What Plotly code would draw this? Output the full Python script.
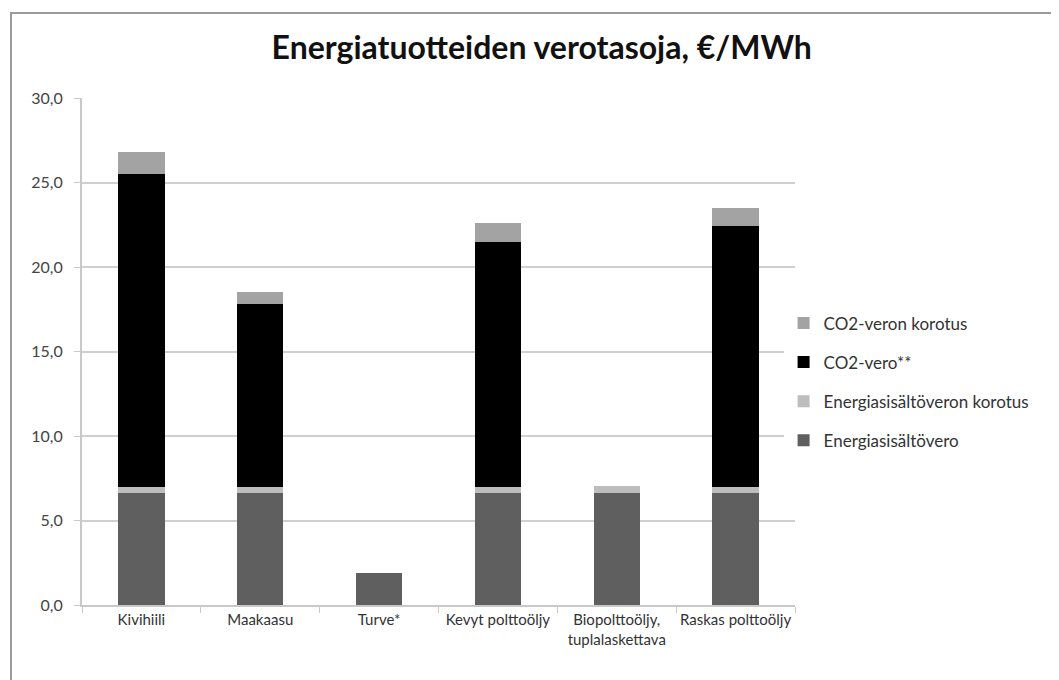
import plotly.graph_objects as go

categories = ["Kivihiili", "Maakaasu", "Turve*", "Kevyt polttoöljy",
              "Biopolttoöljy,<br>tuplalaskettava", "Raskas polttoöljy"]
energiasisaltovero = [6.65, 6.65, 1.9, 6.65, 6.65, 6.65]
energiasisaltoveron_korotus = [0.35, 0.35, 0.0, 0.35, 0.4, 0.35]
co2_vero = [18.5, 10.8, 0.0, 14.5, 0.0, 15.4]
co2_veron_korotus = [1.3, 0.75, 0.0, 1.1, 0.0, 1.1]

series = [
    ("Energiasisältövero", energiasisaltovero, "#5f5f5f"),
    ("Energiasisältöveron korotus", energiasisaltoveron_korotus, "#bdbdbd"),
    ("CO2-vero**", co2_vero, "#000000"),
    ("CO2-veron korotus", co2_veron_korotus, "#a3a3a3"),
]

fig = go.Figure()
for i, (name, vals, col) in enumerate(series):
    fig.add_trace(go.Bar(name=name, x=categories, y=vals, legendgroup=name,
                         legendrank=1000 - i,
                         marker=dict(color=col, line=dict(width=0))))

font = "Lato, Open Sans, sans-serif"
fig.update_layout(
    barmode="stack",
    width=1059, height=680,
    margin=dict(l=74, r=272, t=90, b=83),
    paper_bgcolor="white", plot_bgcolor="white",
    bargap=0.61,
    title=dict(text="<b>Energiatuotteiden verotasoja, €/MWh</b>",
               x=0.504, xanchor="center", y=0.941, yanchor="middle",
               font=dict(family=font, size=32, color="#111")),
    font=dict(family=font, size=15, color="#333"),
    legend=dict(x=0.984, xanchor="left", y=0.44, yanchor="middle",
                traceorder="grouped", font=dict(size=17, color="#333"),
                itemwidth=30, tracegroupgap=14),
    showlegend=True,
    yaxis=dict(range=[0, 30], dtick=5, tickformat=".1f",
               showgrid=True, gridcolor="#d0d0d0", gridwidth=1.5,
               showline=True, linecolor="#c8c8c8", linewidth=2,
               ticks="outside", tickcolor="#c8c8c8", ticklen=6,
               ticklabelstandoff=8,
               tickfont=dict(size=16, color="#444"), zeroline=False),
    xaxis=dict(showline=True, linecolor="#c8c8c8", linewidth=2,
               ticks="outside", tickson="boundaries", tickcolor="#c8c8c8",
               ticklen=6, tickfont=dict(size=15, color="#333"), tickangle=0),
    separators=",.",
    shapes=[dict(type="rect", xref="paper", yref="paper",
                 x0=(3 - 74) / 713, x1=(1100 - 74) / 713,
                 y0=(597 - 720) / 507, y1=(597 - 5) / 507,
                 line=dict(color="#9a9a9a", width=2), layer="below")],
)

fig.write_html("out.html")
